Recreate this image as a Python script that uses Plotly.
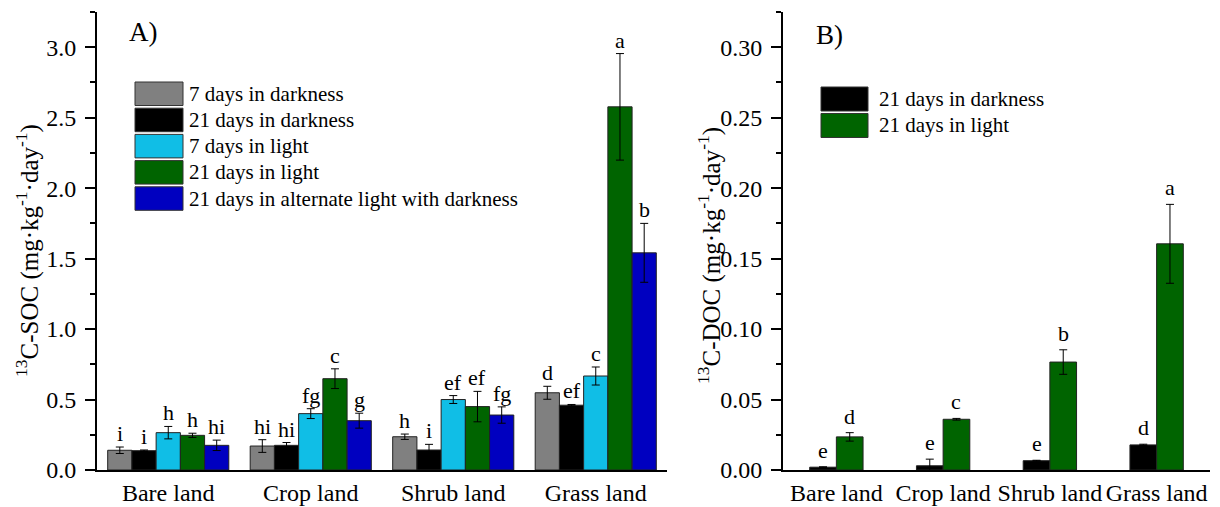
import plotly.graph_objects as go

categories = ["Bare land", "Crop land", "Shrub land", "Grass land"]

# Panel A: 13C-SOC
soc_series = ["7 days in darkness", "21 days in darkness", "7 days in light",
              "21 days in light", "21 days in alternate light with darkness"]
soc_7d_dark = [0.14, 0.17, 0.236, 0.548]
soc_7d_dark_err = [0.023, 0.045, 0.019, 0.046]
soc_21d_dark = [0.137, 0.175, 0.142, 0.46]
soc_21d_dark_err = [0.005, 0.02, 0.04, 0.005]
soc_7d_light = [0.265, 0.40, 0.50, 0.667]
soc_7d_light_err = [0.044, 0.035, 0.028, 0.064]
soc_21d_light = [0.246, 0.648, 0.45, 2.577]
soc_21d_light_err = [0.015, 0.07, 0.108, 0.378]
soc_alt = [0.175, 0.35, 0.39, 1.541]
soc_alt_err = [0.037, 0.053, 0.058, 0.209]
soc_letters_7d_dark = ["i", "hi", "h", "d"]
soc_letters_21d_dark = ["i", "hi", "i", "ef"]
soc_letters_7d_light = ["h", "fg", "ef", "c"]
soc_letters_21d_light = ["h", "c", "ef", "a"]
soc_letters_alt = ["hi", "g", "fg", "b"]

# Panel B: 13C-DOC
doc_series = ["21 days in darkness", "21 days in light"]
doc_21d_dark = [0.002, 0.003, 0.0066, 0.0178]
doc_21d_dark_err = [0.0003, 0.0047, 0.0003, 0.0005]
doc_21d_light = [0.0235, 0.036, 0.0766, 0.1605]
doc_21d_light_err = [0.003, 0.0006, 0.0087, 0.028]
doc_letters_dark = ["e", "e", "e", "d"]
doc_letters_light = ["d", "c", "b", "a"]

colors_a = ["#808080", "#000000", "#10BEE6", "#006400", "#0000C0"]
colors_b = ["#000000", "#006400"]

FONT = "Liberation Serif"
# page body has an 8px margin; figure fills the rest of the 1220x507 window
OX, OY = 8, 8
W, H = 1220 - OX, 507 - OY


def px(x):
    return (x - OX) / W


def py(y):
    return 1 - (y - OY) / H


fig = go.Figure()

soc_vals = [soc_7d_dark, soc_21d_dark, soc_7d_light, soc_21d_light, soc_alt]
soc_errs = [soc_7d_dark_err, soc_21d_dark_err, soc_7d_light_err, soc_21d_light_err, soc_alt_err]
soc_lets = [soc_letters_7d_dark, soc_letters_21d_dark, soc_letters_7d_light,
            soc_letters_21d_light, soc_letters_alt]

annotations = []
shapes = []

nA = len(soc_series)
bwA = 0.85 / nA
for i, (name, vals, errs, lets) in enumerate(zip(soc_series, soc_vals, soc_errs, soc_lets)):
    fig.add_trace(go.Bar(
        x=categories, y=vals, name=name, xaxis="x", yaxis="y",
        width=bwA, offset=-0.425 + bwA * i,
        marker=dict(color=colors_a[i], line=dict(color="#222222", width=1)),
        error_y=dict(type="data", array=errs, visible=True, color="black",
                     thickness=1, width=4),
        showlegend=False,
    ))
    for ci, (v, e, t) in enumerate(zip(vals, errs, lets)):
        annotations.append(dict(
            x=ci - 0.425 + bwA * (i + 0.5), y=v + e, xref="x", yref="y",
            text=t, showarrow=False, yanchor="bottom", yshift=-1,
            font=dict(family=FONT, size=22, color="black")))

doc_vals = [doc_21d_dark, doc_21d_light]
doc_errs = [doc_21d_dark_err, doc_21d_light_err]
doc_lets = [doc_letters_dark, doc_letters_light]
bwB = 0.25
for i, (name, vals, errs, lets) in enumerate(zip(doc_series, doc_vals, doc_errs, doc_lets)):
    fig.add_trace(go.Bar(
        x=categories, y=vals, name=name, xaxis="x2", yaxis="y2",
        width=bwB, offset=-bwB + bwB * i,
        marker=dict(color=colors_b[i], line=dict(color="#222222", width=1)),
        error_y=dict(type="data", array=errs, visible=True, color="black",
                     thickness=1, width=4),
        showlegend=False,
    ))
    for ci, (v, e, t) in enumerate(zip(vals, errs, lets)):
        annotations.append(dict(
            x=ci - bwB + bwB * (i + 0.5), y=v + e, xref="x2", yref="y2",
            text=t, showarrow=False, yanchor="bottom", yshift=2,
            font=dict(family=FONT, size=22, color="black")))

# Manual legends
legA_top = 82
legA_pitch = 26.2
for i, name in enumerate(soc_series):
    y0 = legA_top + i * legA_pitch
    y1 = y0 + 23.5
    shapes.append(dict(type="rect", xref="paper", yref="paper",
                       x0=px(135), x1=px(183), y0=py(y1), y1=py(y0),
                       fillcolor=colors_a[i], line=dict(color="#333333", width=1)))
    annotations.append(dict(x=px(187), y=py((y0 + y1) / 2), xref="paper", yref="paper",
                            text=name, showarrow=False, xanchor="left", yanchor="middle",
                            font=dict(family=FONT, size=21, color="black")))

legB_top = 87
legB_pitch = 26.5
for i, name in enumerate(doc_series):
    y0 = legB_top + i * legB_pitch
    y1 = y0 + 24
    shapes.append(dict(type="rect", xref="paper", yref="paper",
                       x0=px(821), x1=px(868), y0=py(y1), y1=py(y0),
                       fillcolor=colors_b[i], line=dict(color="#333333", width=1)))
    annotations.append(dict(x=px(877), y=py((y0 + y1) / 2), xref="paper", yref="paper",
                            text=name, showarrow=False, xanchor="left", yanchor="middle",
                            font=dict(family=FONT, size=21, color="black")))

# Panel labels
annotations.append(dict(x=px(127), y=py(32), xref="paper", yref="paper", text="A)",
                        showarrow=False, xanchor="left", yanchor="middle",
                        font=dict(family=FONT, size=27, color="black")))
annotations.append(dict(x=px(814), y=py(35), xref="paper", yref="paper", text="B)",
                        showarrow=False, xanchor="left", yanchor="middle",
                        font=dict(family=FONT, size=27, color="black")))

# Y-axis titles
annotations.append(dict(x=px(28), y=py(251), xref="paper", yref="paper",
                        text="<sup>13</sup>C-SOC (mg·kg<sup>-1</sup>·day<sup>-1</sup>)",
                        textangle=-90, showarrow=False, xanchor="center", yanchor="middle",
                        font=dict(family=FONT, size=25, color="black")))
annotations.append(dict(x=px(709), y=py(256), xref="paper", yref="paper",
                        text="<sup>13</sup>C-DOC (mg·kg<sup>-1</sup>·day<sup>-1</sup>)",
                        textangle=-90, showarrow=False, xanchor="center", yanchor="middle",
                        font=dict(family=FONT, size=25, color="black")))

xaxis_common = dict(type="category", range=[-0.5, 3.5], showline=True, linecolor="black",
                    linewidth=2, ticks="", showgrid=False, zeroline=False,
                    tickfont=dict(family=FONT, size=24, color="black"),
                    ticklabelstandoff=0, automargin=False, fixedrange=True)
yaxis_common = dict(showline=True, linecolor="black", linewidth=2, ticks="outside",
                    ticklen=10, tickwidth=2, tickcolor="black", showgrid=False,
                    zeroline=False, tickfont=dict(family=FONT, size=24, color="black"),
                    ticklabelstandoff=4, automargin=False, fixedrange=True)

fig.update_layout(
    width=W, height=H,
    margin=dict(l=0, r=0, t=0, b=0, pad=0),
    paper_bgcolor="white", plot_bgcolor="white",
    font=dict(family=FONT, color="black"),
    barmode="overlay", bargap=0.15, bargroupgap=0,
    hovermode=False,
    xaxis=dict(domain=[px(97), px(667)], anchor="y", **xaxis_common),
    yaxis=dict(domain=[py(470), py(12)], anchor="x", range=[0, 3.25], tick0=0, dtick=0.5,
               tickformat=".1f",
               minor=dict(dtick=0.25, ticks="outside", ticklen=5, tickwidth=2,
                          tickcolor="black", showgrid=False),
               **yaxis_common),
    xaxis2=dict(domain=[px(783), px(1210)], anchor="y2", **xaxis_common),
    yaxis2=dict(domain=[py(470), py(12)], anchor="x2", range=[0, 0.325], tick0=0, dtick=0.05,
                tickformat=".2f",
                minor=dict(dtick=0.025, ticks="outside", ticklen=5, tickwidth=2,
                           tickcolor="black", showgrid=False),
                **yaxis_common),
    annotations=annotations,
    shapes=shapes,
)

fig.write_html("out.html")
